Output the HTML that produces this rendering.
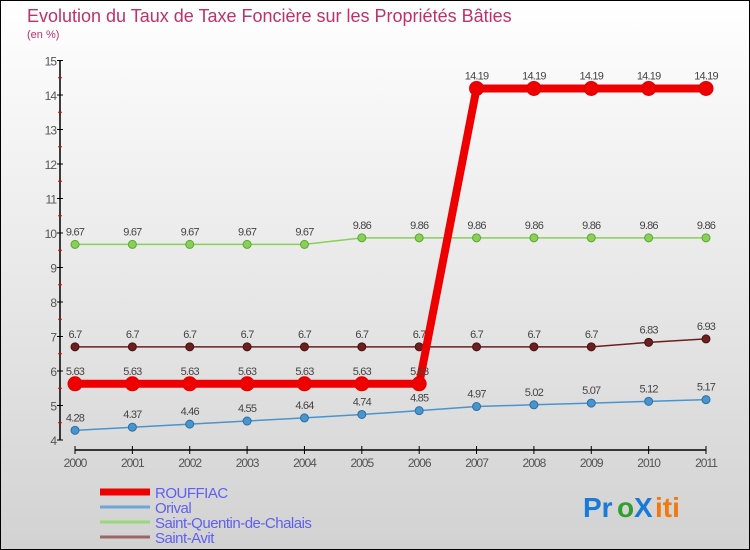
<!DOCTYPE html>
<html><head><meta charset="utf-8"><style>
body{margin:0;width:750px;height:550px;overflow:hidden;font-family:"Liberation Sans",sans-serif}
#c{position:absolute;left:0;top:0;width:748px;height:548px;border:1px solid #000;background:linear-gradient(#ffffff,#d2d2d2)}
</style></head><body>
<div id="c">
<svg width="750" height="550" id="svg" style="position:absolute;left:-1px;top:-1px">
<text x="27" y="22" font-size="18" fill="#c0306a">Evolution du Taux de Taxe Foncière sur les Propriétés Bâties</text>
<text x="27" y="38" font-size="11" fill="#c0306a">(en %)</text>
<g id="axes"></g><g id="series"></g><g id="legend"></g>
<g font-size="28" font-weight="bold" font-family="Liberation Sans, sans-serif">
<text x="583" y="517" fill="#1a7ad8">Pr</text><text x="617" y="517" fill="#2ea02e">o</text><text x="634" y="517" fill="#1a7ad8">X</text><text x="655" y="517" fill="#f07a10">iti</text>
</g>
</svg>
</div>
<script>
const years=["2000","2001","2002","2003","2004","2005","2006","2007","2008","2009","2010","2011"];
const yTicks=[4,5,6,7,8,9,10,11,12,13,14,15];
const rouffiac=[5.63,5.63,5.63,5.63,5.63,5.63,5.63,14.19,14.19,14.19,14.19,14.19];
const orival=[4.28,4.37,4.46,4.55,4.64,4.74,4.85,4.97,5.02,5.07,5.12,5.17];
const stQuentin=[9.67,9.67,9.67,9.67,9.67,9.86,9.86,9.86,9.86,9.86,9.86,9.86];
const stAvit=[6.7,6.7,6.7,6.7,6.7,6.7,6.7,6.7,6.7,6.7,6.83,6.93];
const seriesNames=["ROUFFIAC","Orival","Saint-Quentin-de-Chalais","Saint-Avit"];
const NS="http://www.w3.org/2000/svg";
const X=i=>75+i*(706-75)/(years.length-1);
const Y=v=>440-(v-4)*34.5;
function mk(tag,attrs,parent,txt){const e=document.createElementNS(NS,tag);for(const k in attrs)e.setAttribute(k,attrs[k]);if(txt!==undefined)e.textContent=txt;parent.appendChild(e);return e;}
const ax=document.getElementById('axes');
let yl=mk('line',{x1:60,y1:Y(15),x2:60,y2:Y(4),stroke:'#000','stroke-width':1.5},ax);


yTicks.forEach(t=>{
  mk('line',{x1:57,y1:Y(t),x2:63,y2:Y(t),stroke:'#000'},ax);
  if(t<15) mk('line',{x1:58,y1:Y(t+0.5),x2:62,y2:Y(t+0.5),stroke:'#e00'},ax);
  const tl=mk('text',{x:56,y:Y(t)+5,'font-size':12,fill:'#555','text-anchor':'end','letter-spacing':'-1'},ax,String(t));
  
  
});
let xl=mk('line',{x1:X(0),y1:450,x2:X(11),y2:450,stroke:'#000','stroke-width':1.5},ax);


years.forEach((y,i)=>{
  mk('line',{x1:X(i),y1:446,x2:X(i),y2:454,stroke:'#000'},ax);
  const tl=mk('text',{x:X(i),y:467,'font-size':12,fill:'#555','text-anchor':'middle','letter-spacing':'-1'},ax,y);
  
  
});
const sg=document.getElementById('series');
function draw(vals,color,width,r,name,dark){
  const g=mk('g',{},sg);
  
  
  mk('polyline',{points:vals.map((v,i)=>X(i)+','+Y(v)).join(' '),fill:'none',stroke:color,'stroke-width':width},g);
  vals.forEach((v,i)=>{
    const c=mk('circle',{cx:X(i),cy:Y(v),r:r,fill:color,stroke:dark,'stroke-width':1},g);
    
    
    const t=mk('text',{x:X(i),y:Y(v)-9,'font-size':11,fill:'#444','text-anchor':'middle','letter-spacing':'-0.8'},g,String(v));
    
    
  });
}
draw(orival,'#4a94cc',1.5,4,'orival','#2a6ea8');
draw(stQuentin,'#88d058',1.5,4,'saint-quentin','#5ca830');
draw(stAvit,'#6a2020',1.5,4,'saint-avit','#4a1010');
draw(rouffiac,'#ee0000',8,7,'rouffiac','#e00000');
const lg=document.getElementById('legend');
const lc=['#ee0000','#6aa6d8','#98d878','#986868'],lw=[7,3,3,3];
seriesNames.forEach((n,i)=>{
  const y=492+i*15;
  const g=mk('g',{},lg);
  
  
  mk('line',{x1:100,y1:y,x2:150,y2:y,stroke:lc[i],'stroke-width':lw[i]},g);
  mk('text',{x:155,y:y+6,'font-size':15,fill:'#6060f0','letter-spacing':'-0.5'},g,n);
});
</script>
</body></html>
